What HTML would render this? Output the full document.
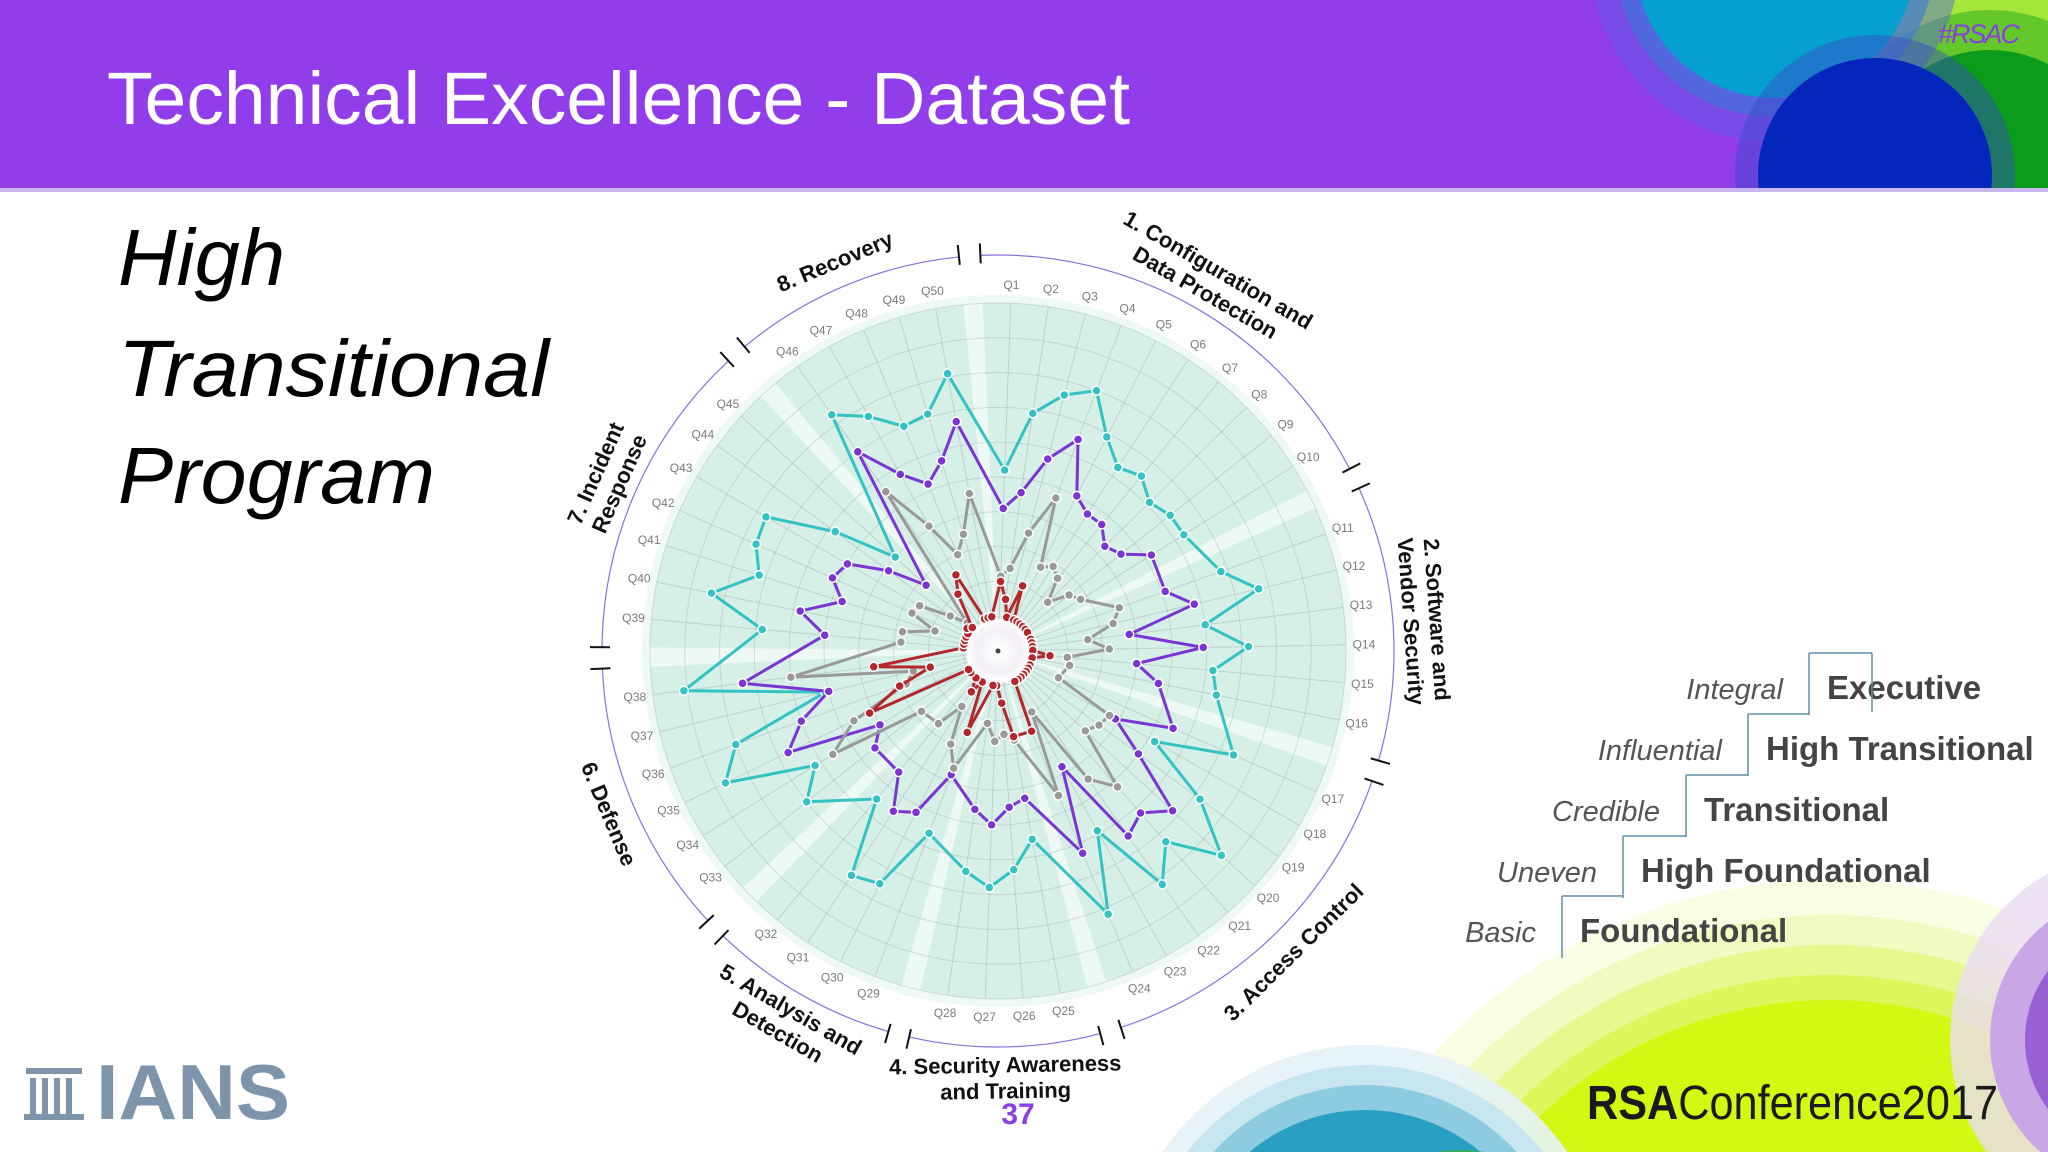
<!DOCTYPE html>
<html><head><meta charset="utf-8"><title>Technical Excellence - Dataset</title>
<style>
html,body{margin:0;padding:0;background:#fff;overflow:hidden;width:2048px;height:1152px;}
svg{display:block;}
text{font-family:"Liberation Sans",sans-serif;}
</style></head>
<body>
<svg id="slide" width="2048" height="1152" viewBox="0 0 2048 1152" xmlns="http://www.w3.org/2000/svg">
<defs>
  <clipPath id="hdrclip"><rect x="0" y="0" width="2048" height="192"/></clipPath>
  <clipPath id="slideclip"><rect x="0" y="0" width="2048" height="1152"/></clipPath>
  <radialGradient id="hubgrad"><stop offset="0" stop-color="#ffffff"/><stop offset="0.7" stop-color="#f4f0f6"/><stop offset="1" stop-color="#ffffff"/></radialGradient>
</defs>
<g clip-path="url(#slideclip)">
  <circle cx="1830" cy="1420" r="540" fill="#f3fbd0" opacity="0.6"/>
  <circle cx="1830" cy="1420" r="505" fill="#eef9b8" opacity="0.8"/>
  <circle cx="1830" cy="1420" r="475" fill="#e6f88e"/>
  <circle cx="1830" cy="1420" r="445" fill="#ddf65c"/>
  <circle cx="1830" cy="1420" r="420" fill="#d2f813"/>
  <circle cx="1365" cy="1290" r="245" fill="#e4f2f6" opacity="0.9"/>
  <circle cx="1365" cy="1290" r="225" fill="#c7e6ef"/>
  <circle cx="1365" cy="1290" r="205" fill="#8ccbe0"/>
  <circle cx="1365" cy="1290" r="180" fill="#2a9fc4"/>
  <circle cx="1460" cy="1300" r="150" fill="#3cb040" opacity="0.75"/>
  <circle cx="2140" cy="1040" r="190" fill="#eadcf4" opacity="0.8"/>
  <circle cx="2140" cy="1040" r="150" fill="#c9a6e6"/>
  <circle cx="2140" cy="1040" r="115" fill="#9b5fd4"/>
</g>
<g clip-path="url(#hdrclip)">
  <rect x="0" y="0" width="2048" height="192" fill="#913de9"/>
  <rect x="1900" y="0" width="148" height="192" fill="#c8f226"/>
  <circle cx="1990" cy="170" r="200" fill="#a6e63a"/>
  <circle cx="1990" cy="170" r="160" fill="#64c82a"/>
  <circle cx="1990" cy="175" r="125" fill="#0a9c1a"/>
  <circle cx="1775" cy="-43" r="185" fill="#5a5fe2" opacity="0.45"/>
  <circle cx="1775" cy="-43" r="160" fill="#3a7ad8" opacity="0.6"/>
  <circle cx="1775" cy="-43" r="141" fill="#06a0d0"/>
  <circle cx="1875" cy="175" r="140" fill="#3a4ac8" opacity="0.45"/>
  <circle cx="1875" cy="175" r="117" fill="#0526bc"/>
  <rect x="0" y="188" width="2048" height="4" fill="#c9b8f0"/>
</g>
<text x="107" y="124" font-size="74" fill="#ffffff" textLength="1023" lengthAdjust="spacingAndGlyphs">Technical Excellence - Dataset</text>
<text x="1938" y="43" font-size="27" font-style="italic" fill="#8a3fe0" letter-spacing="-2">#RSAC</text>

<g font-style="italic" fill="#000" font-size="80">
  <text x="118" y="285" textLength="167" lengthAdjust="spacingAndGlyphs">High</text>
  <text x="118" y="396" textLength="431" lengthAdjust="spacingAndGlyphs">Transitional</text>
  <text x="118" y="503" textLength="317" lengthAdjust="spacingAndGlyphs">Program</text>
</g>

<g id="chart"></g>

<g id="legend"></g>

<g fill="#7d94ab">
  <rect x="26" y="1068" width="56" height="6"/>
  <rect x="30" y="1078" width="6" height="36"/>
  <rect x="42" y="1078" width="6" height="36"/>
  <rect x="54" y="1078" width="6" height="36"/>
  <rect x="66" y="1078" width="6" height="36"/>
  <rect x="24" y="1114" width="60" height="6"/>
  <text x="96" y="1119" font-family="Liberation Serif" font-weight="bold" font-size="78" textLength="194" lengthAdjust="spacingAndGlyphs">IANS</text>
</g>
<text x="1018" y="1124" text-anchor="middle" font-size="30" font-weight="bold" fill="#8a3fe0">37</text>
<g>
  <text x="1587" y="1119" font-size="48" fill="#1a1a1a" textLength="411" lengthAdjust="spacingAndGlyphs"><tspan font-weight="bold">RSA</tspan><tspan font-weight="normal">Conference2017</tspan></text>
</g>
</svg>

<script>
// ---- chart data ----
const questions = ["Q1","Q2","Q3","Q4","Q5","Q6","Q7","Q8","Q9","Q10","Q11","Q12","Q13","Q14","Q15","Q16","Q17","Q18","Q19","Q20","Q21","Q22","Q23","Q24","Q25","Q26","Q27","Q28","Q29","Q30","Q31","Q32","Q33","Q34","Q35","Q36","Q37","Q38","Q39","Q40","Q41","Q42","Q43","Q44","Q45","Q46","Q47","Q48","Q49","Q50"];
const groupNames = [["1. Configuration and","Data Protection"],["2. Software and","Vendor Security"],["3. Access Control"],["4. Security Awareness","and Training"],["5. Analysis and","Detection"],["6. Defense"],["7. Incident","Response"],["8. Recovery"]];
const groupSizes = [10,6,8,4,4,6,7,5];
const tealValues = [5.2,6.9,7.6,8.0,6.9,6.3,6.5,6.1,6.3,6.3, 6.8,7.7,6.0,7.2,6.2,6.4, 7.4,5.2,7.2,8.7,7.3,8.2,5.9,8.2, 5.5,6.3,6.8,6.4, 5.6,7.5,7.7,5.5, 7.0,6.2,8.7,8.0,5.1,9.1, 6.8,8.4,7.2,7.6,7.7,5.8,4.0, 8.3,7.7,7.0,7.1,8.1];
const purpleValues = [4.1,4.6,5.7,6.5,5.0,4.7,4.7,4.3,4.5,5.2, 5.1,5.8,3.8,5.9,4.0,4.7, 5.5,3.9,5.0,6.8,6.2,6.5,3.8,6.3, 4.3,4.5,5.0,4.6, 3.8,5.2,5.5,4.5, 4.5,4.0,6.7,6.0,5.0,7.4, 5.0,5.8,4.7,5.2,5.0,3.9,2.8, 7.0,5.8,5.2,5.7,6.7];
const grayValues = [2.15,2.4,3.5,4.7,2.7,2.9,2.7,2.0,2.6,2.8, 3.7,3.4,2.6,3.2,2.0,2.1, 1.9,3.7,3.6,3.4,5.2,4.5,2.0,4.5, 2.6,2.4,2.6,2.1, 3.6,3.0,1.9,2.7, 2.8,5.6,4.6,2.8,2.5,6.0, 2.8,2.8,1.9,2.7,2.6,1.7,1.2, 5.6,4.1,3.0,3.5,4.6];
const redValues = [2.0,1.5,1.0,2.0,1.0,1.0,1.0,1.0,1.0,1.0, 1.0,1.0,1.0,1.0,1.5,1.0, 1.0,1.0,1.0,1.0,1.0,1.0,1.0,2.5, 2.5,1.5,1.0,1.0, 2.5,1.0,1.4,1.0, 1.0,1.0,4.1,3.0,2.0,3.6, 1.0,1.0,1.0,1.0,1.0,1.1,1.0, 2.0,2.5,1.0,1.0,1.0];
const maxValue = 10;
const ringCount = 10;
// legend data
const levelNames = ["Foundational","High Foundational","Transitional","High Transitional","Executive"];
const levelDescriptors = ["Basic","Uneven","Credible","Influential","Integral"];

const NS = "http://www.w3.org/2000/svg";
function mk(tag, attrs, parent){ const e=document.createElementNS(NS,tag); for(const k in attrs) e.setAttribute(k,attrs[k]); parent.appendChild(e); return e; }

const chart = document.getElementById('chart');
const cx = 998, cy = 651, R = 348;
const slots = questions.length + groupSizes.length;
const step = 360 / slots;
const groupOf = []; const groupStart = [];
{ let k=0; groupSizes.forEach((n,g)=>{ groupStart.push(k); for(let j=0;j<n;j++){groupOf.push(g);k++;} }); }
function angleOf(i){ return (i + groupOf[i] + 0.5) * step - 1; }
function rScale(v){ return v / maxValue * R; }
function pt(angDeg, r){ const a = angDeg*Math.PI/180; return [cx + r*Math.sin(a), cy - r*Math.cos(a)]; }
function arcPath(r, a0, a1){ const p0=pt(a0,r), p1=pt(a1,r); const large=(a1-a0)>180?1:0; return `M${p0[0]},${p0[1]} A${r},${r} 0 ${large} 1 ${p1[0]},${p1[1]}`; }
function sectorPath(r, a0, a1){ const p0=pt(a0,r), p1=pt(a1,r); const large=(a1-a0)>180?1:0; return `M${cx},${cy} L${p0[0]},${p0[1]} A${r},${r} 0 ${large} 1 ${p1[0]},${p1[1]} Z`; }

const disc = mk('circle',{cx:cx,cy:cy,r:R+8,fill:'#eef8f5'},chart);


groupSizes.forEach((n,g)=>{
  const first = groupStart[g], last = first+n-1;
  const a0 = angleOf(first) - step + 1.6, a1 = angleOf(last) + step - 1.6;
  const s = mk('path',{d:sectorPath(R,a0,a1),fill:'#d6f0e8'},chart);
  
  
});
for(let k=1;k<=ringCount;k++){
  const c = mk('circle',{cx:cx,cy:cy,r:rScale(k*maxValue/ringCount),fill:'none',stroke:'#9aa5a2','stroke-opacity':0.35,'stroke-width':1},chart);
  
  
}
questions.forEach((q,i)=>{
  const a = angleOf(i);
  const p0 = pt(a,0), p1 = pt(a,R);
  const l = mk('line',{x1:p0[0],y1:p0[1],x2:p1[0],y2:p1[1],stroke:'#9aa5a2','stroke-opacity':0.4,'stroke-width':1},chart);
  
  
  const lp = pt(a,366);
  const t = mk('text',{x:lp[0],y:lp[1],'text-anchor':'middle','dominant-baseline':'central','font-size':12,fill:'#7a7a7a'},chart);
  
  
  t.textContent = q;
});
const hub = mk('circle',{cx:cx,cy:cy,r:32,fill:'url(#hubgrad)'},chart);


const hubDot = mk('circle',{cx:cx,cy:cy,r:2.5,fill:'#444'},chart);



function drawSeries(vals, color, name){
  const g = mk('g',{},chart);
  
  
  const pts = vals.map((v,i)=>pt(angleOf(i), rScale(v)));
  const poly = mk('polygon',{points:pts.map(p=>p.join(',')).join(' '),fill:'none',stroke:color,'stroke-width':3,'stroke-linejoin':'round'},g);
  
  
  pts.forEach(p=>{
    const c = mk('circle',{cx:p[0],cy:p[1],r:4.5,fill:color,stroke:'#ffffff','stroke-width':1.5},g);
    
    
  });
}
drawSeries(tealValues,'#33c3c3','series-executive');
drawSeries(purpleValues,'#7a35d4','series-high-transitional');
drawSeries(grayValues,'#999999','series-transitional');
drawSeries(redValues,'#b3262a','series-foundational');

groupSizes.forEach((n,g)=>{
  const first = groupStart[g], last = first+n-1;
  const a0 = angleOf(first) - step*0.75, a1 = angleOf(last) + step*0.75;
  const arc = mk('path',{d:arcPath(396,a0,a1),fill:'none',stroke:'#8b70d8','stroke-width':1.2},chart);
  
  
  [a0,a1].forEach(a=>{
    const q0=pt(a,388), q1=pt(a,408);
    const tk = mk('line',{x1:q0[0],y1:q0[1],x2:q1[0],y2:q1[1],stroke:'#111','stroke-width':2},chart);
    
    
  });
  const mid = (angleOf(first)+angleOf(last))/2;
  const lines = groupNames[g];
  const bottom = mid > 100 && mid < 260;
  const rot = bottom ? mid+180 : mid;
  let rs;
  if(lines.length===1) rs=[422];
  else rs = bottom ? [414,440] : [440,414];
  const tg = mk('g',{transform:`translate(${cx},${cy}) rotate(${rot})`},chart);
  
  
  lines.forEach((ln,j)=>{
    const y = bottom ? rs[j] : -rs[j];
    const t = mk('text',{x:0,y:y,'text-anchor':'middle','dominant-baseline':'central','font-size':22,'font-weight':'bold',fill:'#111'},tg);
    
    
    t.textContent = ln;
  });
});

const legend = document.getElementById('legend');
const boxLeft = [1562,1623,1686,1748,1809];
const boxTop = [896,836,775,714,653];
levelNames.forEach((nm,i)=>{
  const x = boxLeft[i], y = boxTop[i];
  const v = mk('line',{x1:x,y1:y,x2:x,y2:y+62,stroke:'#5d8fa6','stroke-width':1.5},legend);
  
  
  const xe = i < levelNames.length-1 ? boxLeft[i+1] : 1872;
  const h = mk('line',{x1:x,y1:y,x2:xe,y2:y,stroke:'#5d8fa6','stroke-width':1.5},legend);
  
  
  const t = mk('text',{x:x+18,y:y+46,'font-size':33,'font-weight':'bold',fill:'#444'},legend);
  
  
  t.textContent = nm;
  const d = mk('text',{x:x-26,y:y+46,'font-size':29,'font-style':'italic','text-anchor':'end',fill:'#555'},legend);
  
  
  d.textContent = levelDescriptors[i];
});
const rv = mk('line',{x1:1872,y1:653,x2:1872,y2:712,stroke:'#5d8fa6','stroke-width':1.5},legend);


</script>
</body></html>
